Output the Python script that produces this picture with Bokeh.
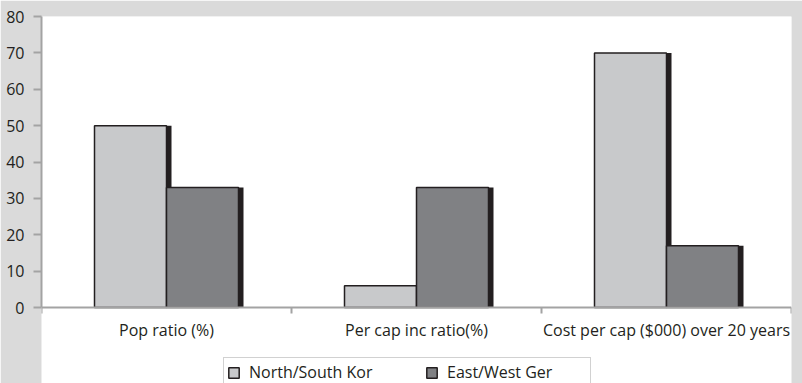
from bokeh.plotting import figure
from bokeh.models import (ColumnDataSource, Range1d, LinearAxis, FixedTicker, Legend, LegendItem)
from bokeh.transform import dodge
from bokeh.embed import file_html
from bokeh.resources import INLINE

categories = ["Pop ratio (%)", "Per cap inc ratio(%)", "Cost per cap ($000) over 20 years"]
north_south_kor = [50, 6, 70]
east_west_ger = [33, 33, 17]
series_names = ["North/South Kor", "East/West Ger"]
y_ticks = [0, 10, 20, 30, 40, 50, 60, 70, 80]
y_max = 80

FONT = "Open Sans"
TXT = "#231f20"
BG = "#dadada"
AXIS = "#a3a3a3"
LIGHT = "#c8c9cb"
DARK = "#808184"
SHADOW = "#231f20"

n = len(categories)
centers = [i + 0.5 for i in range(n)]
edges = [float(i) for i in range(n + 1)]

# layout: plot area 291px tall, 76px of room below it for axis labels and legend
PLOT_H, BELOW_H = 291, 76
y_bottom = -y_max * BELOW_H / PLOT_H

src = ColumnDataSource(dict(x=centers, kor=north_south_kor, ger=east_west_ger))

p = figure(x_range=Range1d(0, n), y_range=Range1d(y_bottom, y_max),
           width=802, height=383, output_backend="svg", toolbar_location=None,
           x_axis_location=None, y_axis_location=None,
           min_border_left=41, min_border_right=11, min_border_top=16, min_border_bottom=0)
p.background_fill_color = BG
p.background_fill_alpha = 0
p.border_fill_color = BG
p.outline_line_color = None
p.grid.visible = False

# white plot area
p.quad(left=[0], right=[n], bottom=[0], top=[y_max], fill_color="white",
       line_color=None, level="underlay")

bw = 0.288
off = bw / 2
sh = 0.02

# shadows
p.vbar(x=dodge("x", -off + sh), top="kor", width=bw, source=src,
       fill_color=SHADOW, line_color=None)
p.vbar(x=dodge("x", off + sh), top="ger", width=bw, source=src,
       fill_color=SHADOW, line_color=None)
# bars
r1 = p.vbar(x=dodge("x", -off), top="kor", width=bw, source=src,
            fill_color=LIGHT, line_color=TXT, line_width=1.5)
r2 = p.vbar(x=dodge("x", off), top="ger", width=bw, source=src,
            fill_color=DARK, line_color=TXT, line_width=1.5)

# y axis
yax = LinearAxis(ticker=FixedTicker(ticks=y_ticks), bounds=(0, y_max))
yax.axis_line_color = AXIS
yax.axis_line_width = 2
yax.major_tick_line_color = AXIS
yax.major_tick_line_width = 2
yax.major_tick_out = 8
yax.major_tick_in = 0
yax.minor_tick_line_color = None
yax.major_label_standoff = 9
yax.major_label_text_font = FONT
yax.major_label_text_font_size = "16px"
yax.major_label_text_color = TXT
p.add_layout(yax, "left")

# x axis at y=0: labels at centers, ticks at category edges
xax = LinearAxis(ticker=FixedTicker(ticks=centers, minor_ticks=edges),
                 major_label_overrides={c: lab for c, lab in zip(centers, categories)},
                 fixed_location=0, bounds=(0, n))
xax.axis_line_color = AXIS
xax.axis_line_width = 2
xax.major_tick_line_color = None
xax.major_tick_out = 6
xax.minor_tick_line_color = AXIS
xax.minor_tick_line_width = 2
xax.minor_tick_out = 6
xax.minor_tick_in = 0
xax.major_label_standoff = 5
xax.major_label_text_font = FONT
xax.major_label_text_font_size = "16px"
xax.major_label_text_color = TXT
p.add_layout(xax, "below")

legend = Legend(items=[LegendItem(label=series_names[0], renderers=[r1]),
                       LegendItem(label=series_names[1], renderers=[r2])],
                orientation="horizontal", location=(182, -4), padding=3, spacing=36,
                label_width=140, glyph_width=13, glyph_height=13, label_standoff=9,
                label_text_font=FONT, label_text_font_size="16px", label_text_color=TXT,
                border_line_color=AXIS, border_line_width=1,
                background_fill_color="white", background_fill_alpha=1, margin=0)
p.add_layout(legend)

open("out.html", "w").write(file_html(p, INLINE))
